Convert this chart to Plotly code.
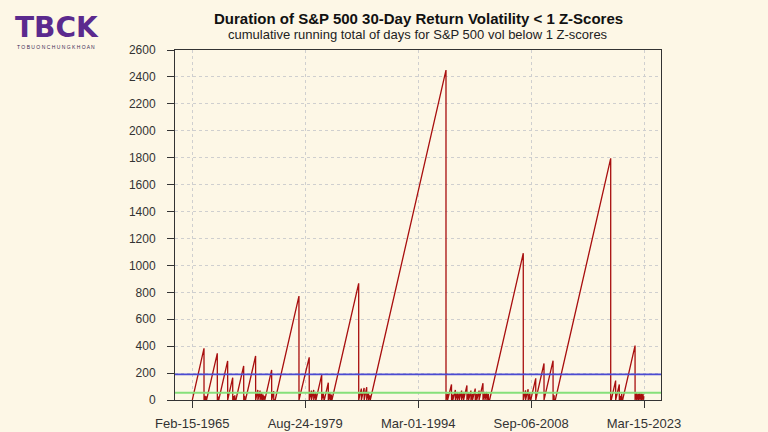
import plotly.graph_objects as go

# ---- data ----
vertex_dates = [
    "1965-02-15", "1966-08-18", "1966-08-19", "1966-10-04", "1966-10-05", "1966-11-18", "1966-11-19",
    "1966-12-16", "1968-05-03", "1968-05-06", "1968-06-12", "1968-06-13",
    "1968-07-09", "1969-09-02", "1969-09-03", "1970-04-27", "1970-04-28",
    "1970-06-10", "1970-06-11", "1970-08-05", "1970-08-06",
    "1970-09-24", "1971-09-24", "1971-09-27", "1971-11-10", "1971-11-11",
    "1971-12-20", "1973-04-06", "1973-04-09",
    "1973-07-20", "1973-07-23", "1973-11-01", "1973-11-02", "1974-01-20", "1974-01-21",
    "1974-03-25", "1974-03-26", "1974-05-10", "1974-05-11",
    "1974-06-14", "1975-04-30", "1975-05-01", "1975-08-05", "1975-08-06",
    "1975-10-13", "1978-11-02", "1978-11-03", "1978-12-05", "1978-12-06",
    "1980-02-27", "1980-02-28", "1980-06-10", "1980-06-11", "1980-09-25", "1980-09-26",
    "1980-12-28", "1980-12-29",
    "1981-01-08", "1981-10-05", "1981-10-06", "1981-12-20", "1981-12-21",
    "1982-01-20", "1982-01-21", "1982-02-05", "1982-08-11", "1982-08-12",
    "1982-10-30", "1982-11-01", "1983-01-05", "1983-01-06",
    "1983-01-30", "1986-07-08", "1986-07-09",
    "1986-11-10", "1986-11-11", "1987-03-20", "1987-03-23", "1987-07-20", "1987-07-21",
    "1987-10-15", "1987-10-16", "1987-12-10", "1987-12-11",
    "1988-01-04", "1997-09-28", "1997-09-29",
    "1997-12-12", "1997-12-13", "1998-06-14", "1998-06-15", "1998-08-15", "1998-08-17",
    "1998-12-12", "1998-12-13", "1999-03-15", "1999-03-16", "1999-06-13", "1999-06-14",
    "1999-10-01", "1999-10-02", "2000-01-01", "2000-01-02", "2000-06-07", "2000-06-08",
    "2000-08-25", "2000-08-26", "2000-12-12", "2000-12-13", "2001-02-24", "2001-02-25",
    "2001-07-02", "2001-07-03", "2001-09-12", "2001-09-13", "2001-12-30", "2001-12-31",
    "2002-07-01", "2002-07-02", "2002-10-01", "2002-10-02", "2002-12-31", "2003-01-01",
    "2003-03-14", "2003-03-15",
    "2003-05-08", "2007-09-05", "2007-09-06",
    "2007-12-20", "2007-12-21", "2008-04-20", "2008-04-21", "2008-07-15", "2008-07-16",
    "2008-08-22", "2009-04-12", "2009-04-13", "2010-05-06", "2010-05-07",
    "2011-07-05", "2011-07-06", "2011-08-25", "2011-08-26",
    "2011-10-19", "2018-12-02", "2018-12-03",
    "2018-12-27", "2018-12-28", "2019-07-22", "2019-07-23", "2020-01-10", "2020-01-11",
    "2020-03-01", "2020-03-02", "2020-05-05", "2020-05-06",
    "2020-06-14", "2022-01-19", "2022-01-20",
    "2022-04-05", "2022-04-06", "2022-06-20", "2022-06-21", "2022-09-05", "2022-09-06",
    "2022-11-20", "2022-11-21", "2023-02-01", "2023-02-02", "2023-03-15",
]
vertex_values = [
    0, 384, 0, 32, 0, 28, 0,
    0, 347, 0, 26, 0,
    0, 290, 0, 166, 0,
    30, 0, 35, 0,
    0, 253, 0, 32, 0,
    0, 327, 0,
    75, 0, 70, 0, 50, 0,
    40, 0, 30, 0,
    0, 223, 0, 65, 0,
    0, 772, 0, 22, 0,
    317, 0, 70, 0, 75, 0,
    60, 0,
    0, 186, 0, 50, 0,
    20, 0, 0, 129, 0,
    55, 0, 40, 0,
    0, 867, 0,
    85, 0, 90, 0, 95, 0,
    60, 0, 35, 0,
    0, 2451, 0,
    45, 0, 116, 0, 40, 0,
    75, 0, 60, 0, 55, 0,
    70, 0, 60, 0, 108, 0,
    50, 0, 70, 0, 45, 0,
    85, 0, 45, 0, 70, 0,
    125, 0, 60, 0, 60, 0,
    45, 0,
    0, 1090, 0,
    72, 0, 80, 0, 50, 0,
    0, 161, 0, 272, 0,
    292, 0, 35, 0,
    0, 1795, 0,
    20, 0, 144, 0, 115, 0,
    30, 0, 45, 0,
    0, 404, 0,
    50, 0, 48, 0, 50, 0,
    48, 0, 45, 0, 28,
]
mean_level = 191     # blue reference line
median_level = 54    # green reference line

tick_dates = ["1965-02-15", "1979-08-24", "1994-03-01", "2008-09-06", "2023-03-15"]
tick_labels = ["Feb-15-1965", "Aug-24-1979", "Mar-01-1994", "Sep-06-2008", "Mar-15-2023"]
y_ticks = list(range(0, 2601, 200))
x_range = ["1962-11-25", "2025-05-21"]

title_text = "Duration of S&P 500 30-Day Return Volatility < 1 Z-Scores"
subtitle_text = "cumulative running total of days for S&P 500 vol below 1 Z-scores"

BG = "#FDF7E6"
FONT = "Liberation Sans, Arial, sans-serif"

fig = go.Figure()
fig.add_trace(go.Scatter(
    x=vertex_dates, y=vertex_values, mode="lines",
    line=dict(color="#A80E0E", width=1.3),
    hoverinfo="skip", showlegend=False,
))
fig.add_hline(y=mean_level, line=dict(color="#4B4BD2", width=1.8))
fig.add_hline(y=median_level, line=dict(color="#86E07A", width=1.8))

fig.update_layout(
    width=768, height=432, autosize=False,
    margin=dict(l=175, r=107, t=50, b=32, pad=0),
    paper_bgcolor=BG, plot_bgcolor=BG,
    font=dict(family=FONT, size=13, color="#333333"),
    showlegend=False,
)
fig.update_xaxes(
    type="date", range=x_range, automargin=False,
    tickmode="array", tickvals=tick_dates, ticktext=tick_labels,
    ticks="outside", ticklen=7, tickcolor="#333333", tickwidth=1,
    ticklabelstandoff=4,
    showline=True, linecolor="#333333", linewidth=1, mirror=True,
    showgrid=True, gridcolor="#CFCFCF", griddash="dot", gridwidth=1,
    zeroline=False, tickfont=dict(size=13, color="#333333"),
)
fig.update_yaxes(
    range=[0, 2600], tickmode="array", tickvals=y_ticks, automargin=False,
    ticks="outside", ticklen=7, tickcolor="#333333", tickwidth=1,
    ticklabelstandoff=9,
    showline=True, linecolor="#333333", linewidth=1, mirror=True,
    showgrid=True, gridcolor="#CFCFCF", griddash="dot", gridwidth=1,
    zeroline=False, tickfont=dict(size=12, color="#333333"),
)

fig.add_annotation(
    text="<b>" + title_text.replace("&", "&amp;").replace("<", "&lt;") + "</b>",
    xref="paper", yref="paper", x=0.5, y=1 + 32 / 350, xanchor="center", yanchor="middle",
    showarrow=False, font=dict(family=FONT, size=15, color="#111111"),
)
fig.add_annotation(
    text=subtitle_text.replace("&", "&amp;"),
    xref="paper", yref="paper", x=0.5, y=1 + 15 / 350, xanchor="center", yanchor="middle",
    showarrow=False, font=dict(family=FONT, size=13, color="#222222"),
)
# logo
fig.add_annotation(
    text="<b>TBCK</b>", xref="paper", yref="paper",
    x=(13 - 175) / 486, y=1 + 23 / 350, xanchor="left", yanchor="middle",
    showarrow=False, font=dict(family="DejaVu Sans, sans-serif", size=28, color="#5B2A8E"),
)
fig.add_annotation(
    text=" ".join("TOBUONCHUNGKHOAN"), xref="paper", yref="paper",
    x=(15 - 175) / 486, y=1 + 3 / 350, xanchor="left", yanchor="middle",
    showarrow=False, font=dict(family=FONT, size=5, color="#3A2A55"),
)

fig.write_html(
    "out.html",
    config={"displayModeBar": False},
    post_script="document.body.style.margin='0';document.body.style.background='" + BG + "';"
                "document.documentElement.style.overflow='hidden';",
)
